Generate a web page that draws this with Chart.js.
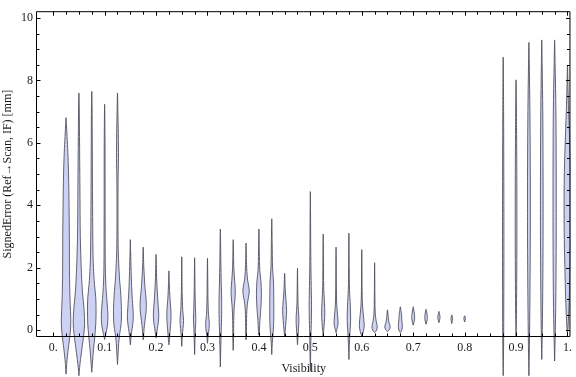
<!DOCTYPE html>
<html>
<head>
<meta charset="utf-8">
<script src="https://cdn.jsdelivr.net/npm/chart.js@4.4.1/dist/chart.umd.min.js"></script>
<style>
  html, body { margin: 0; padding: 0; background: #fff; }
  #wrap { width: 576px; height: 377px; }
</style>
</head>
<body>
<div id="wrap"><canvas id="violins"></canvas></div>
<script>
// violin centres (visibility)
const positions = [0.025, 0.05, 0.075, 0.1, 0.125, 0.15, 0.175, 0.2, 0.225, 0.25, 0.275, 0.3, 0.325, 0.35, 0.375, 0.4,
  0.425, 0.45, 0.475, 0.5, 0.525, 0.55, 0.575, 0.6, 0.625, 0.65, 0.675, 0.7, 0.725, 0.75, 0.775, 0.8,
  0.875, 0.9, 0.925, 0.95, 0.975, 1.0];
// smallest / largest signed error per violin [mm]
const lows = [-1.41, -1.46, -1.35, -0.3, -1.1, -0.47, -0.31, -0.25, -0.47, -0.52, -0.78, -0.42, -1.18, -0.65, -0.31, -0.16,
  -0.78, -0.21, -0.47, -1.3, -0.21, -0.08, -0.94, -0.2, -0.08, -0.05, -0.08, 0.16, 0.19, 0.24, 0.21, 0.26,
  -1.46, -0.21, -1.46, -0.94, -0.99, -0.1];
const highs = [6.81, 7.6, 7.65, 7.24, 7.6, 2.9, 2.66, 2.43, 1.9, 2.35, 2.32, 2.3, 3.24, 2.9, 2.79, 3.24,
  3.57, 1.82, 1.98, 4.44, 3.08, 2.66, 3.11, 2.58, 2.16, 0.65, 0.75, 0.75, 0.67, 0.6, 0.49, 0.46,
  8.75, 8.02, 9.22, 9.3, 9.3, 8.49];
// density knots [signed error, relative density], bottom to top
const densities = [
  [[-1.1, 0.6], [-0.8, 1.5], [-0.5, 2.6], [-0.2, 3.8], [0.1, 4.6], [0.4, 4.7], [0.8, 4.2], [1.3, 3.7], [2.0, 3.4], [3.0, 3.3], [4.0, 3.0], [5.0, 2.5], [5.7, 1.8], [6.2, 1.0], [6.6, 0.4]],
  [[-1.2, 0.7], [-0.94, 1.6], [-0.52, 3.3], [-0.1, 5.0], [0.2, 5.7], [0.6, 5.3], [1.25, 3.5], [2.0, 2.3], [3.0, 1.4], [4.6, 1.0], [6.2, 0.6], [7.2, 0.3]],
  [[-1.1, 0.6], [-0.63, 1.7], [-0.21, 3.0], [0.2, 4.0], [0.63, 4.3], [1.04, 4.0], [1.47, 2.7], [2.0, 1.7], [2.5, 1.2], [4.0, 0.8], [6.0, 0.5], [7.2, 0.3]],
  [[-0.15, 1.0], [0, 2.0], [0.2, 3.0], [0.5, 3.3], [0.9, 2.4], [1.4, 1.3], [2.0, 0.7], [3.5, 0.5], [6.0, 0.4]],
  [[-0.84, 0.5], [-0.42, 1.2], [-0.1, 2.3], [0.21, 3.7], [0.63, 4.0], [1.15, 3.3], [1.67, 2.0], [2.5, 0.8], [3.5, 0.5], [4.8, 0.6], [5.5, 1.0], [6.3, 0.8], [7.0, 0.4]],
  [[-0.3, 0.5], [-0.05, 1.3], [0.16, 2.3], [0.42, 3.0], [0.73, 2.5], [1.25, 1.5], [1.88, 0.8], [2.5, 0.3]],
  [[-0.15, 0.5], [0.05, 0.9], [0.31, 1.8], [0.63, 3.0], [0.94, 3.0], [1.36, 1.8], [2.1, 0.5]],
  [[-0.12, 0.6], [0.05, 1.3], [0.25, 2.3], [0.52, 2.7], [0.94, 1.8], [1.57, 0.7], [2.1, 0.3]],
  [[-0.31, 0.5], [0, 1.2], [0.31, 2.0], [0.63, 2.0], [1.04, 1.0], [1.5, 0.4]],
  [[-0.2, 0.5], [0.05, 1.2], [0.31, 1.8], [0.63, 1.0], [1.2, 0.4]],
  [[-0.3, 0.4], [0.1, 0.8], [0.35, 1.2], [0.7, 0.8], [1.3, 0.4]],
  [[-0.2, 0.6], [0.05, 1.6], [0.25, 1.8], [0.5, 1.0], [1.0, 0.5], [1.6, 0.3]],
  [[-0.6, 0.4], [0, 0.9], [0.5, 1.3], [1.0, 1.3], [1.5, 0.9], [2.2, 0.5]],
  [[-0.2, 0.4], [0.3, 0.5], [0.73, 1.0], [1.0, 1.8], [1.3, 2.1], [1.6, 1.4], [2.0, 0.6]],
  [[0, 0.4], [0.5, 0.6], [0.84, 1.3], [1.25, 3.2], [1.67, 1.3], [2.1, 0.5]],
  [[0, 0.5], [0.31, 1.0], [0.73, 2.0], [1.15, 2.5], [1.57, 2.0], [1.9, 0.9], [2.5, 0.4]],
  [[-0.42, 0.5], [-0.1, 1.3], [0.31, 2.0], [0.94, 2.0], [1.57, 1.7], [2.0, 0.8], [2.8, 0.4]],
  [[0, 0.6], [0.3, 1.4], [0.63, 2.0], [0.95, 1.4], [1.3, 0.6]],
  [[-0.2, 0.5], [0.2, 1.3], [0.45, 1.3], [0.8, 0.6], [1.3, 0.3]],
  [[-0.8, 0.3], [-0.2, 0.6], [0.3, 1.0], [0.8, 1.2], [1.4, 0.9], [2.2, 0.5], [3.2, 0.3]],
  [[0, 0.5], [0.25, 1.2], [0.55, 1.6], [0.9, 1.2], [1.4, 0.5], [2.2, 0.3]],
  [[0.05, 1.0], [0.2, 2.0], [0.45, 1.6], [0.8, 0.7], [1.5, 0.3]],
  [[-0.5, 0.4], [-0.1, 1.0], [0.3, 1.7], [0.8, 1.4], [1.3, 0.6], [2.0, 0.3]],
  [[-0.05, 1.5], [0.15, 2.5], [0.52, 1.5], [0.84, 0.7], [1.4, 0.3]],
  [[0, 2.0], [0.12, 2.6], [0.3, 1.5], [0.55, 0.6], [1.0, 0.3]],
  [[0.02, 2.0], [0.12, 2.7], [0.25, 1.5], [0.4, 0.8], [0.55, 0.4]],
  [[0.0, 1.5], [0.15, 2.0], [0.3, 1.5], [0.45, 1.3], [0.63, 0.6]],
  [[0.25, 0.8], [0.4, 1.5], [0.55, 1.1], [0.68, 0.4]],
  [[0.28, 0.8], [0.4, 1.3], [0.55, 0.8]],
  [[0.32, 0.7], [0.42, 1.1], [0.52, 0.6]],
  [[0.3, 0.5], [0.37, 0.8], [0.43, 0.5]],
  [[0.32, 0.5], [0.37, 0.8], [0.42, 0.5]],
  [[-0.5, 0.4], [1.0, 0.6], [3.0, 0.7], [5.0, 0.6], [7.0, 0.4]],
  [[0.5, 0.4], [2.5, 0.8], [4.5, 0.8], [6.5, 0.5]],
  [[-0.5, 0.5], [1.0, 1.0], [3.0, 1.4], [5.0, 1.4], [7.0, 1.0], [8.5, 0.4]],
  [[-0.3, 0.4], [1.0, 0.9], [3.0, 1.3], [5.0, 1.3], [7.0, 1.0], [8.5, 0.4]],
  [[-0.3, 0.5], [1.0, 1.2], [3.0, 1.6], [5.0, 1.6], [7.0, 1.3], [8.5, 0.5]],
  [[0.1, 0.6], [1.0, 1.8], [2.0, 2.6], [3.2, 3.3], [4.8, 3.3], [5.8, 2.5], [7.0, 1.2], [7.8, 0.5]]
];
const xTickValues = [0, 0.1, 0.2, 0.3, 0.4, 0.5, 0.6, 0.7, 0.8, 0.9, 1.0];
const xTickLabels = ["0.", "0.1", "0.2", "0.3", "0.4", "0.5", "0.6", "0.7", "0.8", "0.9", "1."];
const yTickValues = [0, 2, 4, 6, 8, 10];
const yTickLabels = ["0", "2", "4", "6", "8", "10"];

const densityToX = 0.00194;   // visibility units per density unit
const fillColor = "#cdd2f4";
const lineColor = "rgba(75,75,88,0.85)";
const textColor = "#1a1a1a";
const serif = "'Liberation Serif', 'DejaVu Serif', serif";

function outline(i) {
  const c = positions[i];
  const knots = densities[i];
  const pts = [{ x: c, y: lows[i] }];
  knots.forEach((k) => pts.push({ x: c - k[1] * densityToX, y: k[0] }));
  pts.push({ x: c, y: highs[i] });
  for (let j = knots.length - 1; j >= 0; j--) pts.push({ x: c + knots[j][1] * densityToX, y: knots[j][0] });
  pts.push({ x: c, y: lows[i] });
  return pts;
}

var datasets = positions.map((p, i) => {
  return {
    label: "v" + p,
    data: outline(i),
    showLine: true,
    fill: false,
    tension: 0.3,
    borderWidth: 1,
    borderColor: lineColor,
    backgroundColor: fillColor,
    pointRadius: 0,
    pointHoverRadius: 0,
    clip: { left: false, top: false, right: 0, bottom: false },
  }
})

// fill each violin with the same path the library strokes
const violinFill = {
  id: "violinFill",
  beforeDatasetDraw(chart, args) {
    const meta = args.meta;
    const line = meta.dataset;
    if (!line || !meta.data.length) return;
    const ctx = chart.ctx;
    const area = chart.chartArea;
    line.updateControlPoints(area, "x");
    ctx.save();
    ctx.beginPath();
    ctx.rect(0, 0, area.right, chart.height);
    ctx.clip();
    ctx.beginPath();
    line.path(ctx);
    ctx.closePath();
    ctx.fillStyle = chart.data.datasets[args.index].backgroundColor;
    ctx.fill();
    ctx.restore();
  }
}

// frame with inward ticks on all four sides
const frame = {
  id: "frame",
  afterDatasetsDraw(chart) {
    const ctx = chart.ctx;
    const a = chart.chartArea;
    const xs = chart.scales.x, ys = chart.scales.y;
    const L = a.left - 0.5, R = a.right - 0.5, T = a.top + 0.5, B = a.bottom - 0.5;
    ctx.save();
    ctx.strokeStyle = "#000";
    ctx.lineWidth = 1;
    ctx.beginPath();
    ctx.rect(L, T, R - L, B - T);
    for (let k = 0; k <= 40; k++) {
      const px = Math.round(xs.getPixelForValue(k * 0.025)) + 0.5;
      const len = k % 4 === 0 ? 4 : 3;
      ctx.moveTo(px, B); ctx.lineTo(px, B - len);
      ctx.moveTo(px, T); ctx.lineTo(px, T + len);
    }
    for (let k = 0; k <= 20; k++) {
      const py = Math.round(ys.getPixelForValue(k * 0.5)) + 0.5;
      const len = k % 4 === 0 ? 4 : 3;
      ctx.moveTo(L, py); ctx.lineTo(L + len, py);
      ctx.moveTo(R, py); ctx.lineTo(R - len, py);
    }
    ctx.stroke();
    ctx.restore();
  }
}

new Chart(document.getElementById("violins"), {
  type: "scatter",
  data: { datasets: datasets },
  options: {
    responsive: true,
    maintainAspectRatio: false,
    animation: false,
    events: [],
    layout: { padding: { top: 4, right: 3, left: 0, bottom: 0 } },
    elements: { line: { capBezierPoints: false } },
    plugins: { legend: { display: false }, tooltip: { enabled: false } },
    scales: {
      x: {
        type: "linear",
        min: -0.0315,
        max: 1.0058,
        grid: { display: false, drawTicks: false },
        border: { display: false },
        afterFit: (s) => { s.height = 40 },
        afterBuildTicks: (s) => { s.ticks = xTickValues.map((v) => ({ value: v })) },
        ticks: {
          autoSkip: false,
          maxRotation: 0,
          padding: 4,
          color: textColor,
          font: { family: serif, size: 12 },
          callback: (v, i) => xTickLabels[i],
        },
        title: {
          display: true,
          text: "Visibility",
          color: textColor,
          font: { family: serif, size: 12 },
          padding: { top: 0, bottom: 1 },
        },
      },
      y: {
        type: "linear",
        min: -0.22,
        max: 10.22,
        grid: { display: false, drawTicks: false },
        border: { display: false },
        afterFit: (s) => { s.width = 37 },
        afterBuildTicks: (s) => { s.ticks = yTickValues.map((v) => ({ value: v })) },
        ticks: {
          autoSkip: false,
          padding: 4,
          color: textColor,
          font: { family: serif, size: 12 },
          callback: (v, i) => yTickLabels[i],
        },
        title: {
          display: true,
          text: "SignedError (Ref\u2192Scan, IF) [mm]",
          color: textColor,
          font: { family: serif, size: 12 },
          padding: { top: 1, bottom: 0 },
        },
      },
    },
  },
  plugins: [violinFill, frame],
})
</script>
</body>
</html>
